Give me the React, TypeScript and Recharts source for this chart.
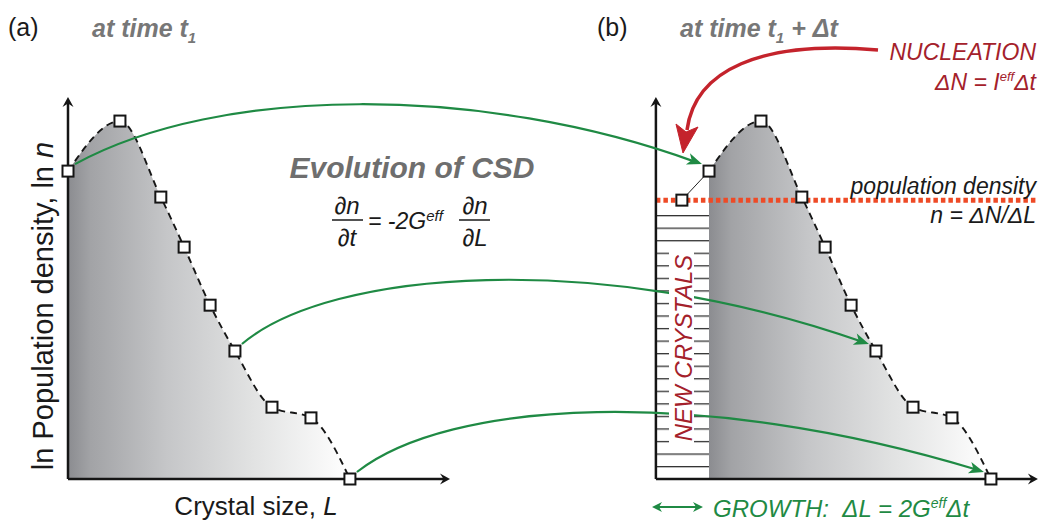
import React from 'react';
import {
  ComposedChart,
  Area,
  Line,
  Scatter,
  XAxis,
  YAxis,
  ReferenceLine,
  ReferenceArea,
} from 'recharts';

// CSD at time t1 (panel a): crystal size L and ln n, arbitrary units
const sizeL = [0, 1.36, 2.43, 3.04, 3.72, 4.37, 5.34, 6.36, 7.38];
const lnN = [8.06, 9.37, 7.38, 6.07, 4.55, 3.35, 1.88, 1.6, 0];
// nuclei born during dt (panel b)
const nucleusL = [0.68];
const nucleusLnN = [7.3];
const growthDL = 1.39;
// points followed by the green arrows from (a) to (b)
const trackedPoints = [0, 5, 8];
const axisMax = 10;

// layout of the two panels on one shared scale
const PANEL_B_SHIFT = 15.39;
const X_DOMAIN: [number, number] = [-1.78, 25.497];
const Y_DOMAIN: [number, number] = [-1.0995, 12.539];
const HATCH_TOP = 7.0;

const FONT = '"Liberation Sans", Arial, sans-serif';
const GREEN = '#1f8a44';
const DARK_RED = '#a4212b';

const curveA = sizeL.map((L, i) => ({ x: L, y: lnN[i] }));
const curveB = sizeL.map((L, i) => ({ x: L + growthDL + PANEL_B_SHIFT, y: lnN[i] }));
const nucleusSeg = [{ x: PANEL_B_SHIFT + nucleusL[0], y: nucleusLnN[0] }, curveB[0]];
const markers = [...curveA, ...curveB, nucleusSeg[0]];

// curve shape of each green arrow: control points as (fraction of dx, dy px)
const arrowBends = [
  { c1: [0.23, -79], c2: [0.65, -80] },
  { c1: [0.14, -75], c2: [0.57, -95] },
  { c1: [0.146, -72], c2: [0.545, -87] },
];

const SquareDot = (props: any) => {
  const { cx, cy } = props;
  if (cx == null || cy == null) return null;
  return (
    <rect x={cx - 5.5} y={cy - 5.5} width={11} height={11} fill="#fff" stroke="#151515" strokeWidth={2} />
  );
};

const axisShape = (p: any) => {
  const { x1, y1, x2, y2 } = p;
  const ang = Math.atan2(y2 - y1, x2 - x1);
  const deg = (ang * 180) / Math.PI;
  return (
    <g>
      <line
        x1={x1}
        y1={y1}
        x2={x2 - Math.cos(ang) * 5}
        y2={y2 - Math.sin(ang) * 5}
        stroke="#151515"
        strokeWidth={2.5}
      />
      <path
        d="M0 0 L-10 -5.5 L-6.5 0 L-10 5.5 Z"
        transform={`translate(${x2},${y2}) rotate(${deg})`}
        fill="#151515"
      />
    </g>
  );
};

const greenArrow = (bend: { c1: number[]; c2: number[] }) => (p: any) => {
  const sx = p.x1 + 7;
  const sy = p.y1 - 7;
  const ex = p.x2 - 7;
  const ey = p.y2 - 7;
  const dx = ex - sx;
  const c1x = sx + bend.c1[0] * dx;
  const c1y = sy + bend.c1[1];
  const c2x = sx + bend.c2[0] * dx;
  const c2y = sy + bend.c2[1];
  const deg = (Math.atan2(ey - c2y, ex - c2x) * 180) / Math.PI;
  return (
    <g>
      <path
        d={`M${sx} ${sy} C${c1x} ${c1y} ${c2x} ${c2y} ${ex - 6} ${ey - 2}`}
        fill="none"
        stroke={GREEN}
        strokeWidth={2.2}
      />
      <path d="M0 0 L-15 -6 L-11 0 L-15 6 Z" transform={`translate(${ex},${ey}) rotate(${deg})`} fill={GREEN} />
    </g>
  );
};

function Overlay() {
  return (
    <svg
      width={1042}
      height={521}
      style={{ position: 'absolute', left: 0, top: 0, pointerEvents: 'none' }}
      fontFamily={FONT}
    >
      <text x={8} y={36} fontSize={25} fill="#1a1a1a">(a)</text>
      <text x={92} y={37} fontSize={25} fontWeight="bold" fontStyle="italic" fill="#777">
        at time t<tspan fontSize={15} dy={6}>1</tspan>
      </text>
      <text x={597} y={36} fontSize={25} fill="#1a1a1a">(b)</text>
      <text x={680} y={37} fontSize={25} fontWeight="bold" fontStyle="italic" fill="#777">
        at time t<tspan fontSize={15} dy={6}>1</tspan>
        <tspan dy={-6}> + Δt</tspan>
      </text>

      {/* nucleation */}
      <path d="M878 50 C760 40 695 70 687 130" fill="none" stroke="#c4232c" strokeWidth={3.5} />
      <path d="M683 153 L676 124 L686 132 L698 127 Z" fill="#c4232c" stroke="#c4232c" strokeWidth={1} />
      <text x={1036} y={60} fontSize={23} fontStyle="italic" fill={DARK_RED} textAnchor="end">NUCLEATION</text>
      <text x={1036} y={90} fontSize={23} fontStyle="italic" fill={DARK_RED} textAnchor="end">
        ΔN = I<tspan fontSize={13} dy={-9}>eff</tspan>
        <tspan dy={9}>Δt</tspan>
      </text>

      <text x={1036} y={194} fontSize={23} fontStyle="italic" fill="#1a1a1a" textAnchor="end">population density</text>
      <text x={1036} y={223} fontSize={23} fontStyle="italic" fill="#1a1a1a" textAnchor="end">n = ΔN/ΔL</text>

      <text x={412} y={178} fontSize={30} fontWeight="bold" fontStyle="italic" fill="#6e6e6e" textAnchor="middle">
        Evolution of CSD
      </text>
      <g fontSize={24} fontStyle="italic" fill="#1a1a1a">
        <text x={347} y={214} textAnchor="middle">∂n</text>
        <line x1={332} y1={220} x2={363} y2={220} stroke="#1a1a1a" strokeWidth={1.5} />
        <text x={347} y={246} textAnchor="middle">∂t</text>
        <text x={368} y={229} fontSize={23}>
          = -2G<tspan fontSize={15} dy={-8}>eff</tspan>
        </text>
        <text x={475} y={214} textAnchor="middle">∂n</text>
        <line x1={459} y1={220} x2={490} y2={220} stroke="#1a1a1a" strokeWidth={1.5} />
        <text x={475} y={246} textAnchor="middle">∂L</text>
      </g>

      <text transform="translate(53,306) rotate(-90)" fontSize={29} fill="#1a1a1a" textAnchor="middle">
        ln Population density, ln <tspan fontStyle="italic">n</tspan>
      </text>
      <text x={256} y={515} fontSize={26} fill="#1a1a1a" textAnchor="middle">
        Crystal size, <tspan fontStyle="italic">L</tspan>
      </text>

      {/* new crystals label sits over the hatching */}
      <rect x={669} y={246} width={25} height={203} fill="#fff" />
      <text transform="translate(692,348) rotate(-90)" fontSize={24} fontStyle="italic" fill={DARK_RED} textAnchor="middle">
        NEW CRYSTALS
      </text>

      <line x1={658} y1={507} x2={697} y2={507} stroke={GREEN} strokeWidth={2.2} />
      <path d="M652 507 L662 502 L659 507 L662 512 Z" fill={GREEN} />
      <path d="M703 507 L693 502 L696 507 L693 512 Z" fill={GREEN} />
      <text x={713} y={517} fontSize={24} fontStyle="italic" fill={GREEN} style={{ whiteSpace: 'pre' }}>
        GROWTH:  ΔL = 2G<tspan fontSize={14} dy={-9}>eff</tspan>
        <tspan dy={9}>Δt</tspan>
      </text>
    </svg>
  );
}

export default function App() {
  return (
    <div style={{ position: 'absolute', left: 0, top: 0, width: 1042, height: 521, background: '#fff' }}>
      <ComposedChart width={1042} height={521} margin={{ top: 0, right: 0, bottom: 0, left: 0 }}>
        <defs>
          <linearGradient id="csdFill" x1="0" y1="0" x2="1" y2="0">
            <stop offset="0" stopColor="#8b8c90" />
            <stop offset="0.08" stopColor="#a2a3a6" />
            <stop offset="0.35" stopColor="#c5c6c8" />
            <stop offset="0.65" stopColor="#e1e2e2" />
            <stop offset="1" stopColor="#ffffff" />
          </linearGradient>
          <pattern id="hatch" patternUnits="userSpaceOnUse" width={8} height={12.55} y={1.65}>
            <rect x={0} y={0} width={8} height={12.55} fill="#fff" />
            <rect x={0} y={0} width={8} height={1.3} fill="#333" />
          </pattern>
        </defs>
        <XAxis type="number" dataKey="x" domain={X_DOMAIN} allowDataOverflow hide />
        <YAxis type="number" dataKey="y" domain={Y_DOMAIN} allowDataOverflow hide />

        <ReferenceArea
          x1={PANEL_B_SHIFT}
          x2={PANEL_B_SHIFT + growthDL}
          y1={0}
          y2={HATCH_TOP}
          fill="url(#hatch)"
          fillOpacity={1}
          stroke="none"
        />

        <Area
          data={curveA}
          dataKey="y"
          type="monotone"
          baseValue={0}
          fill="url(#csdFill)"
          fillOpacity={1}
          stroke="#161616"
          strokeWidth={1.9}
          strokeDasharray="7 5"
          dot={false}
          activeDot={false}
          isAnimationActive={false}
        />
        <Area
          data={curveB}
          dataKey="y"
          type="monotone"
          baseValue={0}
          fill="url(#csdFill)"
          fillOpacity={1}
          stroke="#161616"
          strokeWidth={1.9}
          strokeDasharray="7 5"
          dot={false}
          activeDot={false}
          isAnimationActive={false}
        />

        <ReferenceLine
          segment={[{ x: PANEL_B_SHIFT, y: nucleusLnN[0] }, { x: 25.4, y: nucleusLnN[0] }]}
          stroke="#ee4a26"
          strokeWidth={5}
          strokeDasharray="4.5 3"
        />

        <ReferenceLine segment={[{ x: 0, y: 0 }, { x: 0, y: axisMax }]} shape={axisShape} />
        <ReferenceLine segment={[{ x: 0, y: 0 }, { x: axisMax, y: 0 }]} shape={axisShape} />
        <ReferenceLine segment={[{ x: PANEL_B_SHIFT, y: 0 }, { x: PANEL_B_SHIFT, y: axisMax }]} shape={axisShape} />
        <ReferenceLine segment={[{ x: PANEL_B_SHIFT, y: 0 }, { x: PANEL_B_SHIFT + axisMax, y: 0 }]} shape={axisShape} />

        {trackedPoints.map((idx, k) => (
          <ReferenceLine
            key={idx}
            segment={[curveA[idx], curveB[idx]]}
            shape={greenArrow(arrowBends[k])}
          />
        ))}

        <Line
          data={nucleusSeg}
          dataKey="y"
          type="linear"
          stroke="#222"
          strokeWidth={1}
          dot={false}
          activeDot={false}
          isAnimationActive={false}
        />
        <Scatter data={markers} dataKey="y" shape={SquareDot} isAnimationActive={false} />
      </ComposedChart>
      <Overlay />
    </div>
  );
}
